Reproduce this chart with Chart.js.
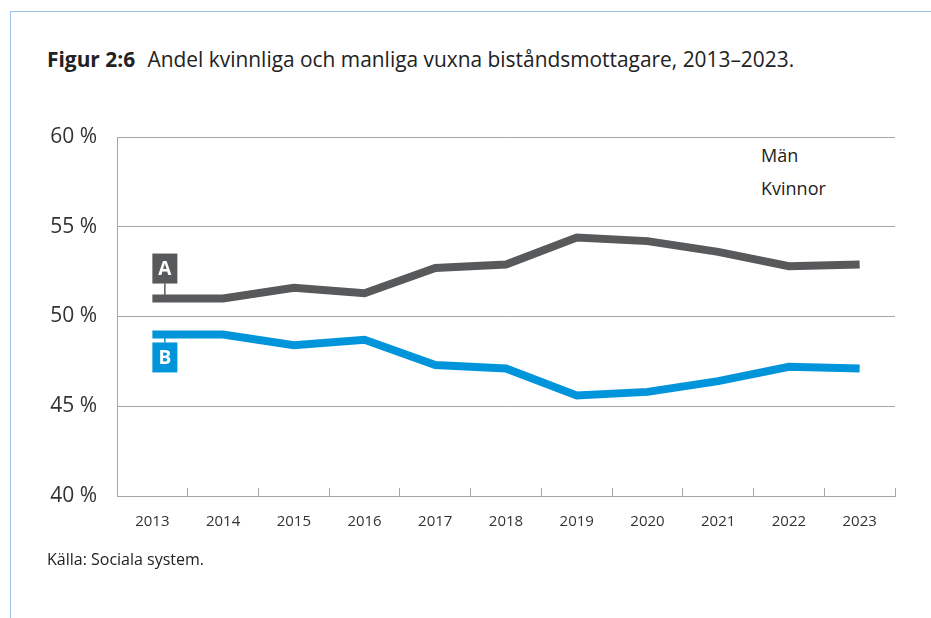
<!DOCTYPE html>
<html lang="sv">
<head>
<meta charset="utf-8">
<script src="https://cdn.jsdelivr.net/npm/chart.js@4/dist/chart.umd.min.js"></script>
<style>
  body { margin: 0; background: #fff; font-family: "Open Sans", sans-serif; color: #222; }
  #page { position: relative; width: 931px; height: 618px; overflow: hidden; }
  #frame { position: absolute; left: 10px; top: 11px; right: 0; bottom: 0;
           border-top: 1px solid #9fc4ea; border-left: 1px solid #9fc4ea; }
  #title { position: absolute; left: 47px; top: 49px; font-size: 20.9px; line-height: 1; white-space: nowrap; }
  #title b { font-weight: 700; margin-right: 7px; }
  #source { position: absolute; left: 47px; top: 551px; font-size: 16px; line-height: 1; }
  .legend { position: absolute; left: 761px; font-size: 18px; line-height: 1; color: #222; }
  #chartBox { position: absolute; left: 20px; top: 120px; width: 911px; height: 440px; }
</style>
</head>
<body>
<div id="page">
  <div id="frame"></div>
  <div id="title"><b>Figur 2:6</b> Andel kvinnliga och manliga vuxna biståndsmottagare, 2013–2023.</div>
  <div class="legend" style="top:146px">Män</div>
  <div class="legend" style="top:179px">Kvinnor</div>
  <div id="chartBox"><canvas id="chart"></canvas></div>
  <div id="source">Källa: Sociala system.</div>
</div>
<script>
// Data
const years = ["2013", "2014", "2015", "2016", "2017", "2018", "2019", "2020", "2021", "2022", "2023"];
const man = [51.0, 51.0, 51.6, 51.3, 52.7, 52.9, 54.4, 54.2, 53.6, 52.8, 52.9];
const kvinnor = [49.0, 49.0, 48.4, 48.7, 47.3, 47.1, 45.6, 45.8, 46.4, 47.2, 47.1];
const seriesNames = ["Män", "Kvinnor"];
const seriesTags = ["A", "B"];
const yTicks = [40, 45, 50, 55, 60];

const GRAY = "#58595b";
const BLUE = "#0095da";
const GRID = "#a6a6a6";

// Draws the little "A"/"B" boxes at the first point of each line
const tagPlugin = {
  id: "tags",
  afterDatasetsDraw(chart) {
    const ctx = chart.ctx;
    chart.data.datasets.forEach((ds, i) => {
      const pt = chart.getDatasetMeta(i).data[0];
      const w = 25, h = 30;
      const above = i === 0;
      const boxTop = above ? pt.y - 15 - h : pt.y + 8;
      ctx.save();
      // connector
      ctx.strokeStyle = ds.borderColor;
      ctx.lineWidth = 1.5;
      ctx.beginPath();
      ctx.moveTo(pt.x + 12.5, above ? boxTop + h : pt.y);
      ctx.lineTo(pt.x + 12.5, above ? pt.y : boxTop);
      ctx.stroke();
      // box
      ctx.fillStyle = ds.borderColor;
      ctx.fillRect(pt.x, boxTop, w, h);
      ctx.fillStyle = "#fff";
      ctx.font = "bold 19px 'Open Sans', sans-serif";
      ctx.textAlign = "center";
      ctx.textBaseline = "middle";
      ctx.fillText(seriesTags[i], pt.x + w / 2, boxTop + h / 2 + 1);
      ctx.restore();
    });
  },
};

const ctx = document.getElementById("chart");
new Chart(ctx, {
  type: "line",
  data: {
    labels: years,
    datasets: [
      {
        label: seriesNames[0],
        data: man,
        borderColor: GRAY,
        backgroundColor: GRAY,
        borderWidth: 8,
        pointRadius: 0,
        tension: 0,
        borderCapStyle: "butt",
      },
      {
        label: seriesNames[1],
        data: kvinnor,
        borderColor: BLUE,
        backgroundColor: BLUE,
        borderWidth: 8,
        pointRadius: 0,
        tension: 0,
        borderCapStyle: "butt",
      },
    ],
  },
  options: {
    responsive: true,
    maintainAspectRatio: false,
    animation: false,
    layout: { padding: { top: 17, right: 36, bottom: 24, left: 0 } },
    plugins: {
      legend: { display: false },
      tooltip: { enabled: false },
    },
    scales: {
      x: {
        offset: true,
        afterFit: (scale) => { scale.height = 40; },
        grid: {
          offset: true,
          drawOnChartArea: false,
          drawTicks: true,
          tickLength: -8,
          color: GRID,
        },
        border: { display: true, color: GRID, width: 1 },
        ticks: {
          autoSkip: false,
          maxRotation: 0,
          padding: 25,
          color: "#333",
          font: { family: "'Open Sans', sans-serif", size: 15 },
        },
      },
      y: {
        min: 40,
        max: 60,
        afterFit: (scale) => {
          scale.width = 97;
          scale.paddingTop = 0;
          scale.paddingBottom = 0;
        },
        afterBuildTicks: (scale) => { scale.ticks = yTicks.map((v) => ({ value: v })); },
        grid: { color: GRID, drawTicks: false },
        border: { display: true, color: GRID, width: 1 },
        ticks: {
          padding: 20,
          color: "#333",
          font: { family: "'Open Sans', sans-serif", size: 21 },
          callback: (value) => value + " %",
        },
      },
    },
  },
  plugins: [tagPlugin],
});
</script>
</body>
</html>
